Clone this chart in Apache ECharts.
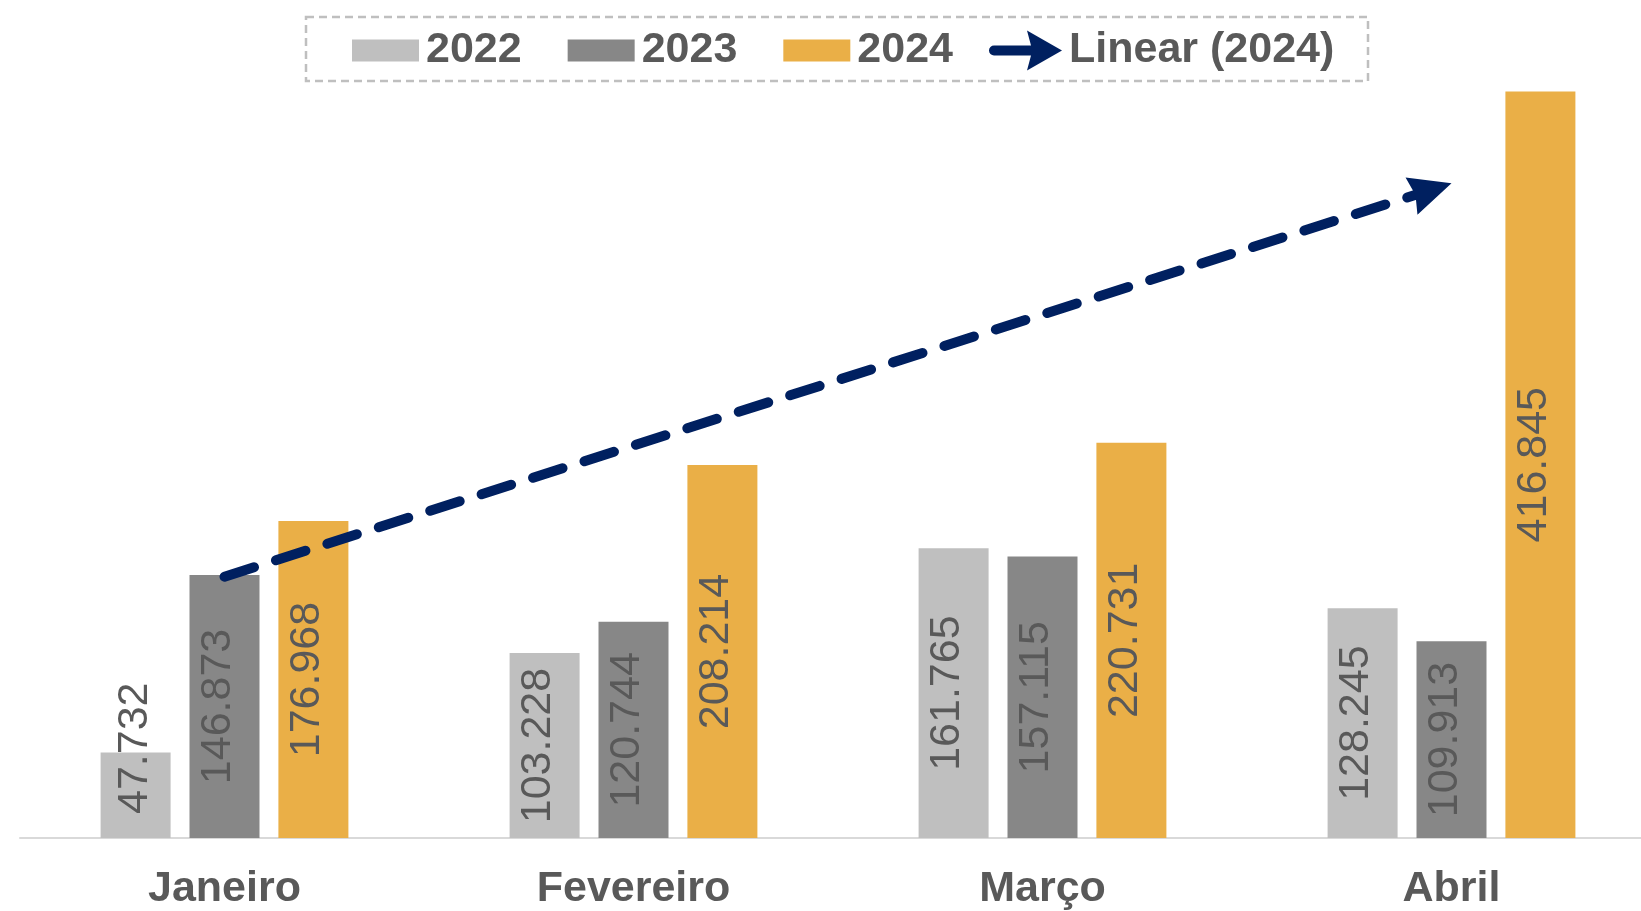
<!DOCTYPE html>
<html>
<head>
<meta charset="utf-8">
<script src="https://cdn.jsdelivr.net/npm/echarts@6/dist/echarts.min.js"></script>
<style>html,body{margin:0;padding:0;background:#fff;overflow:hidden;width:1641px;height:911px}#c{width:1660px;height:911px}</style>
</head>
<body>
<div id="c"></div>
<script>
const months = ['Janeiro', 'Fevereiro', 'Março', 'Abril'];
const s2022 = [47732, 103228, 161765, 128245];
const s2023 = [146873, 120744, 157115, 109913];
const s2024 = [176968, 208214, 220731, 416845];
const trend2024 = [145900, 365500]; // Linear (2024) endpoints at Janeiro and Abril
const seriesNames = ['2022', '2023', '2024'];
const colors = ['#BFBFBF', '#878787', '#EAAF47'];

const FONT = 'Liberation Sans, Arial, sans-serif';
const fmt = v => String(v).replace(/\B(?=(\d{3})+(?!\d))/g, '.');

function barData(arr) {
  return arr.map(v => v < 60000
    ? { value: v, label: { position: 'insideBottom', distance: 24, align: 'left', verticalAlign: 'middle', offset: [0, 0] } }
    : v);
}

const chart = echarts.init(document.getElementById('c'), null, { renderer: 'canvas' });

const barSeries = [s2022, s2023, s2024].map((arr, i) => ({
  name: seriesNames[i],
  type: 'bar',
  data: barData(arr),
  barWidth: 70,
  barGap: '27%',
  itemStyle: { color: colors[i] },
  label: {
    show: true,
    position: 'inside',
    rotate: 90,
    offset: [0, -6],
    formatter: p => fmt(p.value),
    fontFamily: FONT,
    fontSize: 43,
    color: '#595959'
  },
  z: 2
}));

// arrowhead whose tip sits at the centre of its box (invisible point below balances the bounds)
const ARROW_HEAD = 'path://M5 -12 Z M5 0 L10 12 L5 10.8 L0 12 Z';

const option = {
  animation: false,
  backgroundColor: '#ffffff',
  grid: { left: 20, right: 4, top: 32, bottom: 72, containLabel: false },
  xAxis: {
    type: 'category',
    data: months,
    axisLine: { show: true, lineStyle: { color: '#D9D9D9', width: 2 } },
    axisTick: { show: false },
    axisLabel: { fontFamily: FONT, fontSize: 43, fontWeight: 'bold', color: '#595959', margin: 30 }
  },
  yAxis: {
    type: 'value',
    min: 0,
    max: 450000,
    show: false,
    splitLine: { show: false }
  },
  legend: [
    {
      data: ['2022', '2023', '2024'],
      left: 352,
      top: 29,
      padding: 0,
      itemWidth: 67,
      itemHeight: 22,
      itemGap: 46,
      icon: 'rect',
      textStyle: { fontFamily: FONT, fontSize: 43, fontWeight: 'bold', color: '#595959', padding: [0, 0, 0, 2] }
    },
    {
      data: [{
        name: 'Linear (2024)',
        icon: 'path://M5 15 L42 15 L38 0 L73 20 L38 40 L42 25 L5 25 A5 5 0 0 1 5 15 Z',
        itemStyle: { color: '#002060' }
      }],
      left: 989,
      top: 29,
      padding: 0,
      itemWidth: 73,
      itemHeight: 40,
      textStyle: { fontFamily: FONT, fontSize: 43, fontWeight: 'bold', color: '#595959', padding: [0, 0, 0, 2] }
    }
  ],
  graphic: [{
    type: 'rect',
    shape: { x: 306, y: 17, width: 1062, height: 64 },
    style: { fill: 'none', stroke: '#BFBFBF', lineWidth: 2.5, lineDash: [8, 5] },
    silent: true,
    z: 0
  }],
  series: barSeries.concat([{
    name: 'Linear (2024)',
    type: 'line',
    data: [],
    color: '#002060',
    itemStyle: { color: '#002060' },
    z: 5,
    markLine: {
      silent: true,
      animation: false,
      symbol: ['none', ARROW_HEAD],
      symbolSize: [39, 84],
      label: { show: false },
      emphasis: { disabled: true },
      lineStyle: { color: '#002060', width: 10, type: [31, 23], cap: 'round' },
      data: [[
        { coord: [months[0], trend2024[0]] },
        { coord: [months[3], trend2024[1]] }
      ]]
    }
  }])
};

chart.setOption(option);
</script>
</body>
</html>
